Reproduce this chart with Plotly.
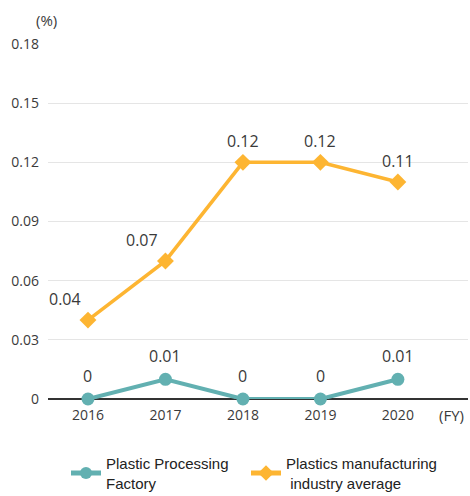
import plotly.graph_objects as go

years = [2016, 2017, 2018, 2019, 2020]
factory = [0, 0.01, 0, 0, 0.01]
industry_avg = [0.04, 0.07, 0.12, 0.12, 0.11]
y_ticks = [0, 0.03, 0.06, 0.09, 0.12, 0.15, 0.18]
y_tick_text = ["0", "0.03", "0.06", "0.09", "0.12", "0.15", "0.18"]

teal = "#62b0b1"
orange = "#fdb532"
text_color = "#3a3a3a"
font_main = "Open Sans, Noto Sans, sans-serif"
font_legend = "Liberation Sans, Arial, sans-serif"

PLOT_W, PLOT_H = 420, 355  # plot area size in px, used to place paper-relative text


def fmt(v):
    s = f"{v:.2f}".rstrip("0").rstrip(".")
    return s if s else "0"


fig = go.Figure()
fig.add_trace(go.Scatter(
    x=years, y=factory, mode="lines+markers",
    name="Plastic Processing<br>Factory",
    line=dict(color=teal, width=4),
    marker=dict(symbol="circle", size=13, color=teal),
    cliponaxis=False, legend="legend",
))
fig.add_trace(go.Scatter(
    x=years, y=industry_avg, mode="lines+markers",
    name="Plastics manufacturing<br> industry average",
    line=dict(color=orange, width=3.5),
    marker=dict(symbol="diamond", size=13, color=orange),
    cliponaxis=False, legend="legend2",
))

annotations = []
# value labels above each point; the rising industry points sit up-left
for i, (x, v) in enumerate(zip(years, industry_avg)):
    left = i < 2
    annotations.append(dict(
        x=x, y=v, xref="x", yref="y", text=fmt(v), showarrow=False,
        xshift=-23 if left else 0, yshift=21,
        font=dict(size=16, color=text_color, family=font_main),
    ))
for x, v in zip(years, factory):
    annotations.append(dict(
        x=x, y=v, xref="x", yref="y", text=fmt(v), showarrow=False,
        yshift=23,
        font=dict(size=16, color=text_color, family=font_main),
    ))
# unit labels
annotations.append(dict(
    x=(34 - 48) / PLOT_W, y=1 + 24 / PLOT_H, xref="paper", yref="paper",
    text="(%)", showarrow=False, xanchor="left", yanchor="middle",
    font=dict(size=15, color=text_color, family=font_main),
))
annotations.append(dict(
    x=1, y=-16 / PLOT_H, xref="paper", yref="paper", text="(FY)",
    showarrow=False, xanchor="right", yanchor="middle", xshift=-2,
    font=dict(size=15, color=text_color, family=font_main),
))

legend_common = dict(
    orientation="h", xref="container", yref="container",
    xanchor="left", y=(496 - 447) / 496, yanchor="top",
    font=dict(family=font_legend, size=15, color="#222"),
    itemwidth=30, itemsizing="constant", bgcolor="rgba(0,0,0,0)",
)

fig.update_layout(
    width=470, height=496,
    margin=dict(l=48, r=2, t=44, b=97),
    paper_bgcolor="white", plot_bgcolor="white",
    font=dict(family=font_main, size=14, color=text_color),
    showlegend=True,
    legend=dict(x=66 / 470, **legend_common),
    legend2=dict(x=246 / 470, **legend_common),
    annotations=annotations,
)
fig.update_xaxes(
    range=[2015.484, 2020.905],
    tickvals=years, ticktext=[str(y) for y in years],
    showgrid=False, zeroline=False,
    showline=False, ticks="", ticklabelstandoff=6,
    tickfont=dict(size=14, color=text_color),
)
fig.update_yaxes(
    range=[0, 0.18],
    tickvals=y_ticks, ticktext=y_tick_text,
    showgrid=True, gridcolor="#e5e5e5", gridwidth=1,
    zeroline=True, zerolinecolor="#333333", zerolinewidth=1.5,
    ticks="", ticklabelstandoff=8,
    tickfont=dict(size=14, color=text_color),
)

fig.write_html("out.html")
